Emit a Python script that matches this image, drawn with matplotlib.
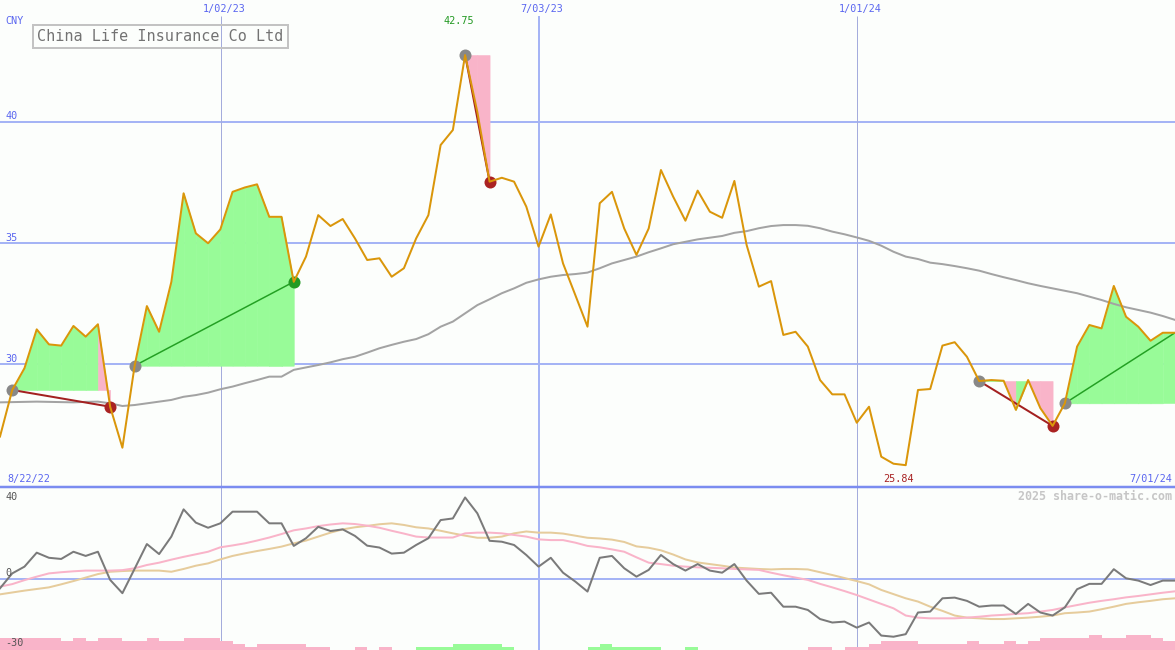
import matplotlib
matplotlib.use("Agg")
import matplotlib.pyplot as plt
from matplotlib.patches import Rectangle
import numpy as np

# weekly closes, 8/22/22 .. 7/01/24 (CNY)
price = [27.02, 28.94, 29.84, 31.44, 30.82, 30.77, 31.58, 31.14, 31.65, 28.25,
         26.56, 29.94, 32.40, 31.34, 33.40, 37.05, 35.40, 34.99, 35.56, 37.11,
         37.29, 37.42, 36.08, 36.08, 33.40, 34.44, 36.15, 35.70, 35.99, 35.19,
         34.30, 34.37, 33.61, 33.96, 35.19, 36.15, 39.04, 39.66, 42.75, 40.40,
         37.53, 37.69, 37.53, 36.50, 34.85, 36.18, 34.16, 32.86, 31.55, 36.64,
         37.11, 35.60, 34.51, 35.60, 38.01, 36.91, 35.92, 37.16, 36.29, 36.04,
         37.56, 34.92, 33.20, 33.43, 31.21, 31.34, 30.73, 29.35, 28.76, 28.76,
         27.59, 28.25, 26.19, 25.90, 25.84, 28.94, 28.98, 30.77, 30.91, 30.31,
         29.31, 29.35, 29.32, 28.12, 29.35, 28.19, 27.46, 28.39, 30.73, 31.62,
         31.48, 33.23, 31.96, 31.55, 30.97, 31.30, 31.30]

ma = [28.43, 28.44, 28.45, 28.46, 28.45, 28.44, 28.43, 28.45, 28.46, 28.39,
      28.28, 28.32, 28.39, 28.46, 28.53, 28.66, 28.73, 28.83, 28.97, 29.08,
      29.22, 29.35, 29.49, 29.49, 29.77, 29.87, 29.97, 30.08, 30.21, 30.31,
      30.48, 30.66, 30.80, 30.93, 31.04, 31.24, 31.55, 31.76, 32.10, 32.44,
      32.68, 32.93, 33.13, 33.36, 33.50, 33.61, 33.68, 33.72, 33.78, 33.96,
      34.16, 34.30, 34.44, 34.62, 34.78, 34.95, 35.05, 35.15, 35.22, 35.29,
      35.42, 35.49, 35.61, 35.70, 35.74, 35.74, 35.71, 35.61, 35.47, 35.36,
      35.23, 35.09, 34.89, 34.64, 34.44, 34.34, 34.19, 34.13, 34.05, 33.96,
      33.86, 33.72, 33.59, 33.47, 33.34, 33.23, 33.13, 33.03, 32.93, 32.79,
      32.65, 32.49, 32.35, 32.24, 32.13, 31.99, 31.83]

osc = [-4.0, 2.4, 5.3, 11.3, 9.1, 8.6, 11.7, 9.9, 11.7, -0.4,
       -6.1, 4.4, 15.0, 10.7, 18.2, 29.9, 24.2, 22.0, 23.9, 28.9,
       28.9, 28.9, 23.9, 23.9, 14.2, 17.5, 22.4, 20.6, 21.3, 18.5,
       14.3, 13.5, 10.9, 11.3, 14.6, 17.5, 25.3, 26.0, 35.0, 28.2,
       16.4, 16.0, 14.6, 10.3, 5.3, 9.1, 2.7, -1.1, -5.4, 9.1,
       9.9, 4.6, 1.0, 3.9, 10.3, 6.4, 3.6, 6.4, 3.6, 2.7,
       6.4, -0.7, -6.4, -5.9, -11.9, -11.9, -13.3, -17.2, -18.7, -18.3,
       -20.9, -18.7, -24.3, -24.8, -23.7, -14.4, -14.0, -8.3, -8.0, -9.4,
       -11.9, -11.4, -11.4, -15.0, -10.7, -14.4, -15.7, -12.2, -4.4, -2.1,
       -2.1, 4.2, 0.3, -0.7, -2.6, -0.7, -0.7]

osc_fast = [-3.3, -2.2, -0.5, 1.0, 2.4, 2.9, 3.3, 3.6, 3.6, 3.6,
            3.8, 4.6, 6.0, 7.0, 8.3, 9.5, 10.6, 11.7, 13.6, 14.4,
            15.3, 16.5, 17.8, 19.3, 20.9, 21.7, 22.7, 23.4, 23.9, 23.6,
            22.9, 22.0, 20.7, 19.5, 18.2, 17.8, 17.8, 17.8, 19.6, 19.9,
            19.9, 19.6, 18.9, 18.2, 17.0, 16.7, 16.7, 15.6, 14.2, 13.6,
            12.7, 11.7, 9.3, 7.0, 6.4, 5.7, 5.3, 5.0, 4.8, 4.6,
            4.3, 4.1, 3.9, 2.7, 1.6, 0.6, -0.4, -2.1, -3.6, -5.2,
            -6.9, -8.8, -10.7, -12.6, -15.7, -16.6, -16.9, -16.9, -16.9, -16.6,
            -16.2, -15.7, -15.4, -15.0, -14.7, -14.0, -13.3, -12.2, -11.2, -10.2,
            -9.4, -8.7, -7.9, -7.3, -6.6, -5.9, -5.3]

osc_slow = [-6.6, -5.8, -5.0, -4.3, -3.6, -2.3, -0.9, 0.6, 2.1, 3.1,
            3.4, 3.6, 3.6, 3.6, 3.1, 4.3, 5.7, 6.7, 8.4, 9.9,
            11.0, 12.0, 12.9, 13.9, 15.3, 16.5, 18.2, 19.9, 21.3, 22.2,
            22.8, 23.5, 23.9, 23.2, 22.2, 21.7, 20.7, 19.6, 18.6, 17.7,
            17.7, 18.2, 19.6, 20.4, 19.9, 19.9, 19.5, 18.6, 17.7, 17.4,
            16.9, 15.9, 14.0, 13.4, 12.3, 10.5, 8.4, 7.1, 6.4, 5.7,
            4.9, 4.6, 4.3, 4.1, 4.3, 4.3, 4.1, 2.9, 1.7, 0.4,
            -0.9, -2.3, -4.7, -6.5, -8.3, -9.7, -11.9, -13.7, -15.7, -16.6,
            -16.9, -17.2, -17.2, -16.9, -16.6, -16.2, -15.7, -14.7, -14.4, -14.0,
            -13.0, -11.9, -10.7, -10.0, -9.4, -8.7, -8.3]

hist = [-4, -4, -4, -4, -4, -3, -4, -3, -4, -4,
        -3, -3, -4, -3, -3, -4, -4, -4, -3, -2,
        -1, -2, -2, -2, -2, -1, -1, 0, 0, -1,
        0, -1, 0, 0, 1, 1, 1, 2, 2, 2,
        2, 1, 0, 0, 0, 0, 0, 0, 1, 2,
        1, 1, 1, 1, 0, 0, 1, 0, 0, 0,
        0, 0, 0, 0, 0, 0, -1, -1, 0, -1,
        -1, -2, -3, -3, -3, -2, -2, -2, -2, -3,
        -2, -2, -3, -2, -3, -4, -4, -4, -4, -5,
        -4, -4, -5, -5, -4, -3]

# (entry week, exit week); last one still open
trades = [(1, 9), (11, 24), (38, 40), (80, 86), (87, 96)]

date_labels = ["1/02/23", "7/03/23", "1/01/24"]
date_weeks = [18.06, 44.04, 70.02]

BG = "#fcfefc"
GRID = "#a5b4f5"
GREEN_FILL = "#98fb98"
PINK_FILL = "#f9b4c9"
ORANGE = "#da960a"
BLUE_TXT = "#5a66f0"

W, H = 1175, 650
x = np.arange(len(price))
px = 1.0 / 1.389  # one pixel in points

fig = plt.figure(figsize=(W / 100, H / 100), dpi=100, facecolor=BG)
ax = fig.add_axes([0, 163 / H, 1, 487 / H])
ax2 = fig.add_axes([0, 0, 1, 163 / H])
for a in (ax, ax2):
    a.set_axis_off()
    a.set_xlim(0, 96)
ax.set_ylim(24.94, 45.02)
ax2.set_ylim(-30.5, 39.5)

# grid
for v in [40, 35, 30]:
    ax.axhline(v, color=GRID, lw=2 * px, zorder=1)
for w, lab in zip(date_weeks, date_labels):
    mid = lab.startswith("7")
    col = GRID if mid else "#a4acdc"
    lw = 2 * px if mid else 1 * px
    ax.vlines(w, 24.94, 44.36, color=col, lw=lw, zorder=1)
    ax2.axvline(w, color=col, lw=lw, zorder=1)
ax2.axhline(0, color=GRID, lw=2 * px, zorder=1)
ax2.axhline(39.5, color="#7b8cf0", lw=2.5 * px, clip_on=False, zorder=6)

# trade fills, segment by segment
for a, b in trades:
    e = price[a]
    for k in range(a, b):
        col = GREEN_FILL if price[k + 1] >= e else PINK_FILL
        ax.fill_between(x[k:k + 2], price[k:k + 2], e, color=col, lw=0.4, zorder=2)

ax.plot(x, ma, color="#a3a3a3", lw=2 * px, zorder=3)

for i, (a, b) in enumerate(trades):
    gain = price[b] >= price[a]
    lcol = "#23a023" if gain else "#a32020"
    ax.plot([a, b], [price[a], price[b]], color=lcol, lw=(1.5 if gain else 2) * px, zorder=4)
    ax.plot(a, price[a], "o", ms=12 * px, color="#888888", mec="none", zorder=4)
    if i < len(trades) - 1:
        ax.plot(b, price[b], "o", ms=12 * px, color="#239a23" if gain else "#aa2222",
                mec="none", zorder=4)

ax.plot(x, price, color=ORANGE, lw=2 * px, zorder=5)

# lower panel
hx = np.arange(len(hist)) + 0.5
hv = np.array(hist)
ax2.bar(hx, np.abs(hv) * 1.29, width=1.0, bottom=-30.5,
        color=[GREEN_FILL if v > 0 else PINK_FILL for v in hv], lw=0, zorder=2)
ax2.plot(x, osc_slow, color="#e6cc9c", lw=2 * px, zorder=3)
ax2.plot(x, osc_fast, color="#f9b4c9", lw=2 * px, zorder=3)
ax2.plot(x, osc, color="#7a7a7a", lw=2 * px, zorder=4)


def ftext(xp, yp, s, **kw):
    kw.setdefault("family", "DejaVu Sans Mono")
    kw.setdefault("fontsize", 7.3)
    kw.setdefault("va", "center")
    fig.text(xp / W, 1 - yp / H, s, **kw)


ftext(5, 21, "CNY", color=BLUE_TXT)
ftext(5, 116, "40", color=BLUE_TXT)
ftext(5, 238, "35", color=BLUE_TXT)
ftext(5, 359, "30", color=BLUE_TXT)
for w, lab in zip(date_weeks, date_labels):
    ftext(w * W / 96 + 3, 9, lab, color=BLUE_TXT, ha="center")
ftext(7, 479, "8/22/22", color=BLUE_TXT)
ftext(1172, 479, "7/01/24", color=BLUE_TXT, ha="right")
ftext(459, 21, "%.2f" % max(price), color="#229922", ha="center")
ftext(899, 479, "%.2f" % min(price), color="#a82222", ha="center")
ftext(1172, 496, "2025 share-o-matic.com", color="#c6c6c6", ha="right",
      fontsize=8.4, fontweight="bold")
ftext(5, 497, "40", color="#555555")
ftext(5, 573, "0", color="#555555")
ftext(5, 643, "-30", color="#555555")

fig.add_artist(Rectangle((33 / W, 1 - 47.5 / H), 255 / W, 22.5 / H,
                         transform=fig.transFigure, fill=False,
                         ec="#c3c3c3", lw=2 * px))
ftext(37, 36.5, "China Life Insurance Co Ltd", color="#737373", fontsize=10.9)

fig.savefig("out.png", dpi=100, facecolor=BG)
